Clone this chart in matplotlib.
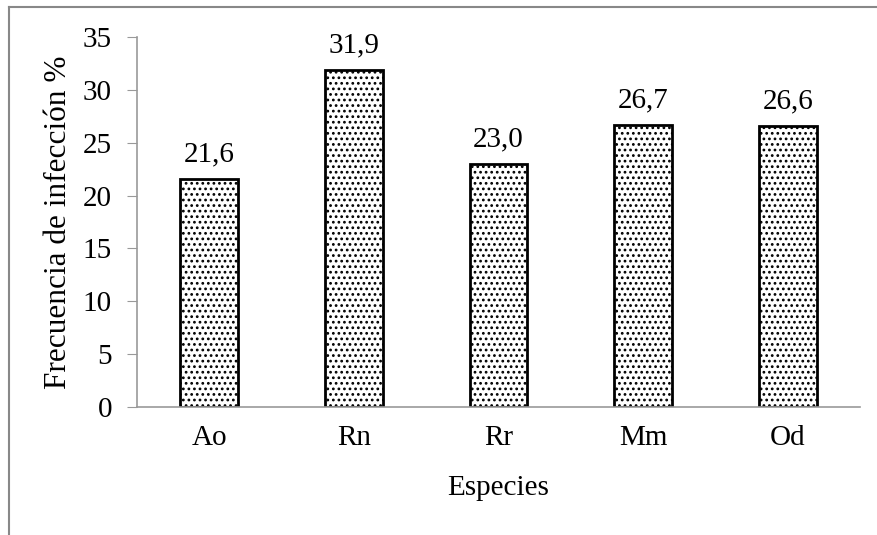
import matplotlib.pyplot as plt
from matplotlib.lines import Line2D

especies = ["Ao", "Rn", "Rr", "Mm", "Od"]
frecuencia = [21.6, 31.9, 23.0, 26.7, 26.6]
etiquetas = ["21,6", "31,9", "23,0", "26,7", "26,6"]
y_ticks = [0, 5, 10, 15, 20, 25, 30, 35]

FS = 21

plt.rcParams["font.family"] = ["Liberation Serif", "DejaVu Serif"]
plt.rcParams["hatch.color"] = "#333333"
plt.rcParams["hatch.linewidth"] = 1.2

fig = plt.figure(figsize=(8.78, 5.35), dpi=100)
ax = fig.add_axes([137 / 878, 1 - 407 / 535, 723 / 878, 370 / 535])

x = range(len(especies))
ax.bar(x, frecuencia, width=0.4, color="white", edgecolor="black",
       linewidth=2, hatch="...")

for xi, v, t in zip(x, frecuencia, etiquetas):
    ax.text(xi, v + 1.1, t, ha="center", va="bottom", fontsize=FS)

ax.set_xlim(-0.5, len(especies) - 0.5)
ax.set_ylim(0, 35)
ax.set_yticks(y_ticks)
ax.set_xticks(list(x))
ax.set_xticklabels(especies)
ax.tick_params(axis="y", direction="out", length=7, color="#999999",
               labelsize=FS, pad=11)
ax.tick_params(axis="x", length=0, labelsize=FS, pad=13)

for side in ["top", "right"]:
    ax.spines[side].set_visible(False)
for side in ["left", "bottom"]:
    ax.spines[side].set_color("#999999")
    ax.spines[side].set_linewidth(1.2)

ax.set_ylabel("Frecuencia de infección %", fontsize=22.5, labelpad=7)
ax.set_xlabel("Especies", fontsize=FS, labelpad=17)

# outer frame (top and left edges only)
fig.add_artist(Line2D([9 / 878, 1], [1 - 7 / 535, 1 - 7 / 535],
                      color="#888888", linewidth=1.5,
                      transform=fig.transFigure))
fig.add_artist(Line2D([9 / 878, 9 / 878], [0, 1 - 7 / 535],
                      color="#888888", linewidth=1.5,
                      transform=fig.transFigure))

fig.savefig("out.png", dpi=100)
